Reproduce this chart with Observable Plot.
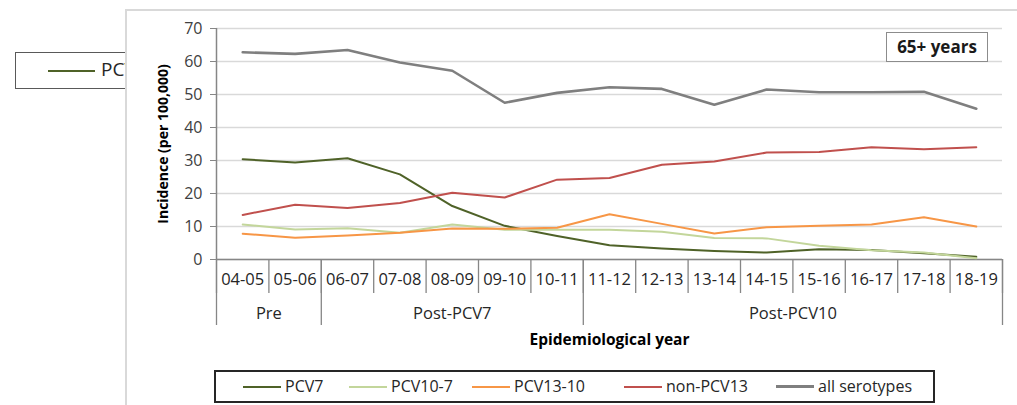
<!DOCTYPE html>
<html>
<head>
<meta charset="utf-8">
<script src="https://cdn.jsdelivr.net/npm/d3@7"></script>
<script src="https://cdn.jsdelivr.net/npm/@observablehq/plot@0.6"></script>
<style>
  html, body { margin: 0; padding: 0; background: #fff; }
  body { width: 1017px; height: 405px; overflow: hidden; font-family: "Open Sans", sans-serif; }
  #stage { position: relative; width: 1017px; height: 405px; }
  #oldlegend { position: absolute; left: 15px; top: 52px; width: 150px; height: 35px; border: 1.5px solid #595959; background: #fff; }
  #oldlegend .ln { position: absolute; left: 32px; top: 17px; width: 47px; height: 2px; background: #4f6228; }
  #oldlegend .tx { position: absolute; left: 85px; top: 3px; font-size: 19px; color: #262626; }
  #panel { position: absolute; left: 125px; top: 9px; right: -4px; bottom: -4px; border-top: 2px solid #d9d9d9; border-left: 2px solid #d9d9d9; background: #fff; }
  #chart { position: absolute; left: 126px; top: 0; }
  #chart svg { background: transparent; overflow: visible; }
  #agebox { position: absolute; left: 886px; top: 32px; width: 100px; height: 28px; border: 1.5px solid #8c8c8c; background: #fff; font-weight: bold; font-size: 17px; color: #1a1a1a; text-align: center; line-height: 28px; }
  #legend { position: absolute; left: 214px; top: 370px; width: 717px; height: 29px; border: 2px solid #262626; background: #fff; }
  #legend .item { position: absolute; top: 0; height: 29px; line-height: 29px; font-size: 16px; color: #262626; white-space: nowrap; }
  #legend .item span.sw { display: inline-block; width: 38px; height: 2px; vertical-align: middle; margin-right: 4px; position: relative; top: -1px; }
</style>
</head>
<body>
<div id="stage">
  <div id="oldlegend"><div class="ln"></div><div class="tx">PCV7</div></div>
  <div id="panel"></div>
  <div id="chart"></div>
  <div id="agebox">65+ years</div>
  <div id="legend"></div>
</div>
<script>
// ---- data ----
const years = ["04-05","05-06","06-07","07-08","08-09","09-10","10-11","11-12","12-13","13-14","14-15","15-16","16-17","17-18","18-19"];
const groupLabels = ["Pre", "Post-PCV7", "Post-PCV10"];
const groupStarts = [0, 2, 7];     // first year index of each period
const groupEnds = [1, 6, 14];      // last year index of each period

const seriesNames = ["PCV7", "PCV10-7", "PCV13-10", "non-PCV13", "all serotypes"];
const seriesColors = ["#4f6228", "#c3d69b", "#f79646", "#c0504d", "#7f7f7f"];

const pcv7         = [30.4, 29.4, 30.7, 25.8, 16.2, 10.2, 7.1, 4.3, 3.3, 2.6, 2.1, 3.1, 2.9, 1.9, 0.8];
const pcv10_7      = [10.6, 9.1, 9.5, 8.1, 10.6, 9.0, 9.0, 9.0, 8.4, 6.5, 6.4, 4.2, 2.8, 2.1, 0.4];
const pcv13_10     = [7.8, 6.6, 7.3, 8.1, 9.4, 9.3, 9.6, 13.7, 10.8, 7.9, 9.8, 10.2, 10.6, 12.8, 10.0];
const nonPcv13     = [13.5, 16.6, 15.6, 17.1, 20.2, 18.8, 24.2, 24.7, 28.7, 29.7, 32.4, 32.6, 34.0, 33.4, 34.0];
const allSerotypes = [62.8, 62.3, 63.5, 59.7, 57.2, 47.5, 50.5, 52.2, 51.7, 46.9, 51.5, 50.7, 50.7, 50.8, 45.7];

const yTicks = [0, 10, 20, 30, 40, 50, 60, 70];

// ---- derived ----
const seriesValues = [pcv7, pcv10_7, pcv13_10, nonPcv13, allSerotypes];
const seriesWidths = [2, 2, 2, 2, 2.6];
const idx = years.map((_, i) => i);
const rows = seriesNames.map((name, s) => idx.map(i => ({series: name, i, value: seriesValues[s][i]})));
const minorSeps = d3.range(-0.5, years.length, 1);
const groupSeps = [groupStarts[0] - 0.5, ...groupEnds.map(e => e + 0.5)];
const groupCenters = groupStarts.map((s, k) => (s + groupEnds[k]) / 2);

const font = "Open Sans, sans-serif";

const chart = Plot.plot({
  width: 891,
  height: 350,
  marginLeft: 90,
  marginRight: 15,
  marginTop: 28,
  marginBottom: 91,
  style: {fontFamily: font, background: "transparent", overflow: "visible"},
  x: {type: "linear", domain: [-0.5, years.length - 0.5]},
  y: {domain: [0, 70]},
  marks: [
    Plot.gridY(yTicks, {stroke: "#d9d9d9", strokeOpacity: 1, strokeWidth: 1.5}),
    Plot.axisY(yTicks, {tickSize: 6, tickPadding: 8, fontSize: 16, stroke: "#868686", fill: "#404040", label: null}),
    Plot.ruleX([-0.5], {stroke: "#868686", strokeWidth: 1.5}),
    Plot.ruleY([0], {stroke: "#868686", strokeWidth: 1.5}),
    Plot.axisX(minorSeps, {tickSize: 34, tickFormat: () => "", stroke: "#868686", strokeWidth: 1.3, label: null}),
    Plot.axisX(groupSeps, {tickSize: 66, tickFormat: () => "", stroke: "#868686", strokeWidth: 1.3, label: null}),
    Plot.axisX(idx, {tickSize: 0, tickPadding: 14, tickFormat: i => years[i], fontSize: 16.5, fill: "#262626", label: null}),
    Plot.axisX(groupCenters, {tickSize: 0, tickPadding: 48, tickFormat: (d, k) => groupLabels[k], fontSize: 16.5, fill: "#262626", label: null}),
    ...rows.map((r, s) => Plot.line(r, {x: "i", y: "value", stroke: seriesColors[s], strokeWidth: seriesWidths[s], curve: "linear"})),
    Plot.text(["Incidence (per 100,000)"], {frameAnchor: "left", dx: -53, rotate: -90, textAnchor: "middle", lineAnchor: "middle", fontWeight: "bold", fontSize: 14, fill: "#000"}),
    Plot.text(["Epidemiological year"], {frameAnchor: "bottom", dy: 81, lineAnchor: "middle", fontWeight: "bold", fontSize: 15.5, fill: "#000"})
  ]
});
document.getElementById("chart").appendChild(chart);

// legend
const legendLefts = [27, 133, 256, 408, 560];
const legend = document.getElementById("legend");
seriesNames.forEach((name, s) => {
  const it = document.createElement("div");
  it.className = "item";
  it.style.left = legendLefts[s] + "px";
  const sw = document.createElement("span");
  sw.className = "sw";
  sw.style.background = seriesColors[s];
  sw.style.height = (s === 4 ? 3 : 2) + "px";
  it.appendChild(sw);
  it.appendChild(document.createTextNode(name));
  legend.appendChild(it);
});
</script>
</body>
</html>
